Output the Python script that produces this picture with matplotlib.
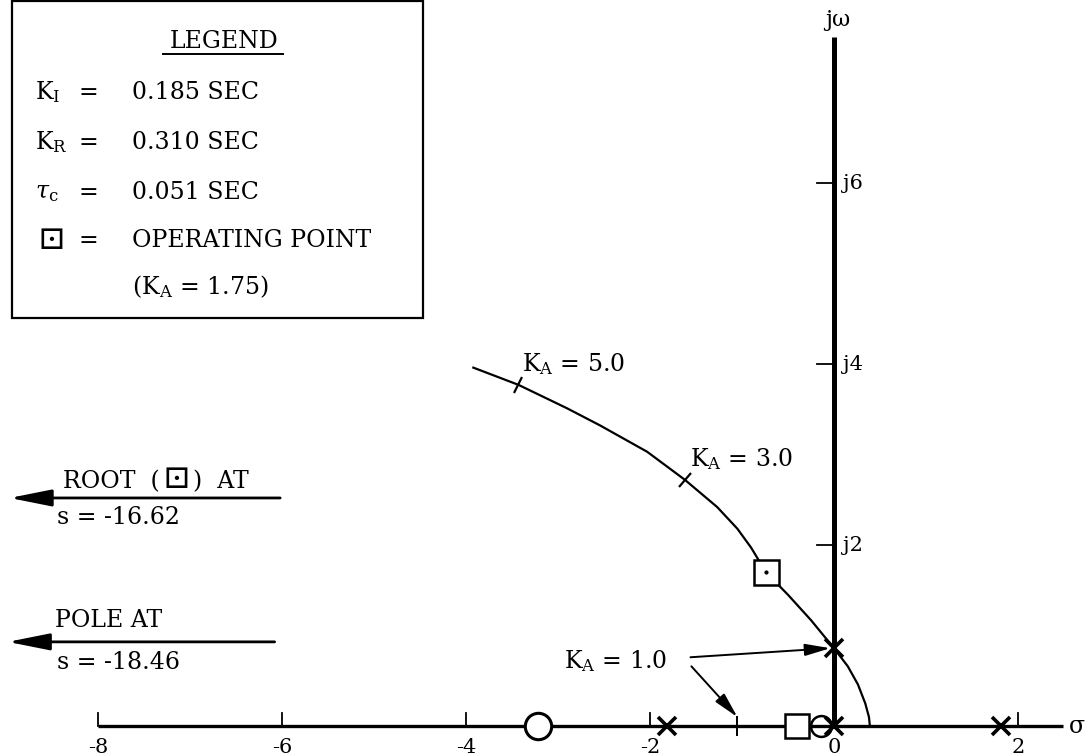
import matplotlib.pyplot as plt
from matplotlib.markers import MarkerStyle
from matplotlib.transforms import Affine2D
from matplotlib.patches import Rectangle, ArrowStyle
from matplotlib.offsetbox import TextArea, HPacker, AnnotationBbox

plt.rcParams['font.family'] = ['DejaVu Serif', 'DejaVu Sans']
plt.rcParams['mathtext.fontset'] = 'dejavuserif'

# open-loop poles / zeros on the real axis
pole_sigma = [-1.82, 0.0, 1.82]
zero_sigma = [-3.22, -0.14]
# operating-point root that stays on the real axis
op_real_sigma = [-0.40]

# upper branch of the root locus
locus_sigma = [-3.92, -3.43, -2.90, -2.54, -2.03, -1.62, -1.27, -1.05, -0.90,
               -0.74, -0.50, -0.25, 0.0, 0.15, 0.26, 0.34, 0.38, 0.39]
locus_omega = [3.96, 3.77, 3.51, 3.32, 3.03, 2.72, 2.42, 2.18, 1.97,
               1.70, 1.45, 1.17, 0.86, 0.66, 0.46, 0.25, 0.10, 0.0]

# operating point K_A = 1.75
op_sigma = [-0.74]
op_omega = [1.70]

# gain calibration marks along the branch
gain_labels = ['5.0', '3.0']
gain_sigma = [-3.43, -1.62]
gain_omega = [3.77, 2.72]
gain_angle = [-24, -38]

# K_A = 1.0 points: on the real axis and on the jw axis
k1_real_sigma = -1.05
k1_jw_omega = 0.86

sigma_ticks = [-8, -6, -4, -2, 2]
sigma_ticklabels = ['-8', '-6', '-4', '-2', '2']
omega_ticks = [2, 4, 6]

legend_keys = [r'$\mathregular{K_I}$', r'$\mathregular{K_R}$',
               r'$\tau_\mathregular{c}$']
legend_vals = ['0.185 SEC', '0.310 SEC', '0.051 SEC']

fig = plt.figure(figsize=(10.88, 7.55), dpi=100)
ax = fig.add_axes([0, 0, 1, 1])
ax.set_xlim(-9.065, 2.761)
ax.set_ylim(-0.320, 8.022)
ax.axis('off')

FS = 17

# axes of the s-plane
ax.plot([-8, 2.49], [0, 0], color='black', lw=2.4, solid_capstyle='butt')
ax.plot([0, 0], [0, 7.61], color='black', lw=3.6, solid_capstyle='butt')
for t in sigma_ticks:
    ax.plot([t, t], [0, 0.14], color='black', lw=1.3)
for t, lab in zip(sigma_ticks, sigma_ticklabels):
    ax.text(t, -0.13, lab, ha='center', va='top', fontsize=15)
ax.text(0, -0.13, '0', ha='center', va='top', fontsize=15)
for t in omega_ticks:
    ax.plot([-0.19, 0], [t, t], color='black', lw=1.3)
    ax.text(0.1, t, 'j%d' % t, ha='left', va='center', fontsize=15)
ax.text(0.04, 7.80, 'jω', ha='center', va='center', fontsize=16)
ax.text(2.55, 0, 'σ', ha='left', va='center', fontsize=17)

# locus branch
ax.plot(locus_sigma, locus_omega, color='black', lw=1.6)

# poles and zeros
ax.plot(pole_sigma, [0] * len(pole_sigma), 'x', color='black', ms=13, mew=2.6)
ax.plot(zero_sigma[:1], [0], 'o', mfc='white', mec='black', ms=19, mew=2.2)
ax.plot(zero_sigma[1:], [0], 'o', mfc='none', mec='black', ms=15, mew=1.8)
ax.plot(op_real_sigma, [0] * len(op_real_sigma), 's', mfc='white',
        mec='black', ms=17, mew=1.8)
ax.plot([0], [k1_jw_omega], 'x', color='black', ms=13, mew=2.6)
ax.plot([k1_real_sigma], [0], '|', color='black', ms=15, mew=1.4)

# operating point on the branch
ax.plot(op_sigma, op_omega, 's', mfc='white', mec='black', ms=18, mew=1.8)
ax.plot(op_sigma, op_omega, '.', color='black', ms=4)

# gain ticks and labels
for s, w, a in zip(gain_sigma, gain_omega, gain_angle):
    m = MarkerStyle('|', transform=Affine2D().rotate_deg(a))
    ax.plot([s], [w], marker=m, color='black', ms=13, mew=1.6)
ax.text(-3.39, 4.00, r'$\mathregular{K_A}$ = ' + gain_labels[0],
        ha='left', va='center', fontsize=FS)
ax.text(-1.57, 2.95, r'$\mathregular{K_A}$ = ' + gain_labels[1],
        ha='left', va='center', fontsize=FS)

# K_A = 1.0 callout
ax.text(-2.94, 0.72, r'$\mathregular{K_A}$ = 1.0', ha='left', va='center',
        fontsize=FS)
arrow = dict(arrowstyle=ArrowStyle('-|>', head_length=0.55, head_width=0.13),
             color='black', lw=1.4, mutation_scale=28, shrinkA=0, shrinkB=0)
ax.annotate('', xy=(-0.04, k1_jw_omega), xytext=(-1.56, 0.76),
            arrowprops=arrow)
ax.annotate('', xy=(k1_real_sigma, 0.10), xytext=(-1.55, 0.66),
            arrowprops=arrow)

# off-scale roots to the left
arrow_l = dict(arrowstyle=ArrowStyle('-|>', head_length=0.8, head_width=0.16),
               color='black', lw=2.0, mutation_scale=32, shrinkA=0, shrinkB=0)
ax.annotate('', xy=(-8.96, 2.52), xytext=(-6.02, 2.52), arrowprops=arrow_l)
root_text = HPacker(children=[
    TextArea('ROOT  (', textprops=dict(fontsize=FS)),
    TextArea('⊡', textprops=dict(fontsize=24)),
    TextArea(')  AT', textprops=dict(fontsize=FS)),
], align='baseline', pad=0, sep=2)
ax.add_artist(AnnotationBbox(root_text, (-8.38, 2.73), xycoords='data',
                             box_alignment=(0, 0.5), frameon=False, pad=0))
ax.text(-8.45, 2.30, 's = -16.62', ha='left', va='center', fontsize=FS)
ax.annotate('', xy=(-8.98, 0.93), xytext=(-6.08, 0.93), arrowprops=arrow_l)
ax.text(-8.47, 1.17, 'POLE AT', ha='left', va='center', fontsize=FS)
ax.text(-8.45, 0.70, 's = -18.46', ha='left', va='center', fontsize=FS)

# legend box
ax.add_patch(Rectangle((-8.935, 4.508), 4.468, 3.503, fill=False,
                       edgecolor='black', lw=1.6))
ax.text(-6.63, 7.56, 'LEGEND', ha='center', va='center', fontsize=FS)
ax.plot([-7.29, -5.99], [7.43, 7.43], color='black', lw=1.4)
legend_y = [7.00, 6.45, 5.90, 5.37]
for k, v, y in zip(legend_keys, legend_vals, legend_y):
    ax.text(-8.685, y, k, ha='left', va='center', fontsize=FS)
    ax.text(-8.10, y, '=', ha='center', va='center', fontsize=FS)
    ax.text(-7.63, y, v, ha='left', va='center', fontsize=FS)
ax.text(-8.50, legend_y[3], '⊡', ha='center', va='center', fontsize=24)
ax.text(-8.10, legend_y[3], '=', ha='center', va='center', fontsize=FS)
ax.text(-7.63, legend_y[3], 'OPERATING POINT', ha='left', va='center',
        fontsize=FS)
ax.text(-7.63, 4.85, r'($\mathregular{K_A}$ = 1.75)', ha='left',
        va='center', fontsize=FS)

plt.savefig('out.png', dpi=100)
